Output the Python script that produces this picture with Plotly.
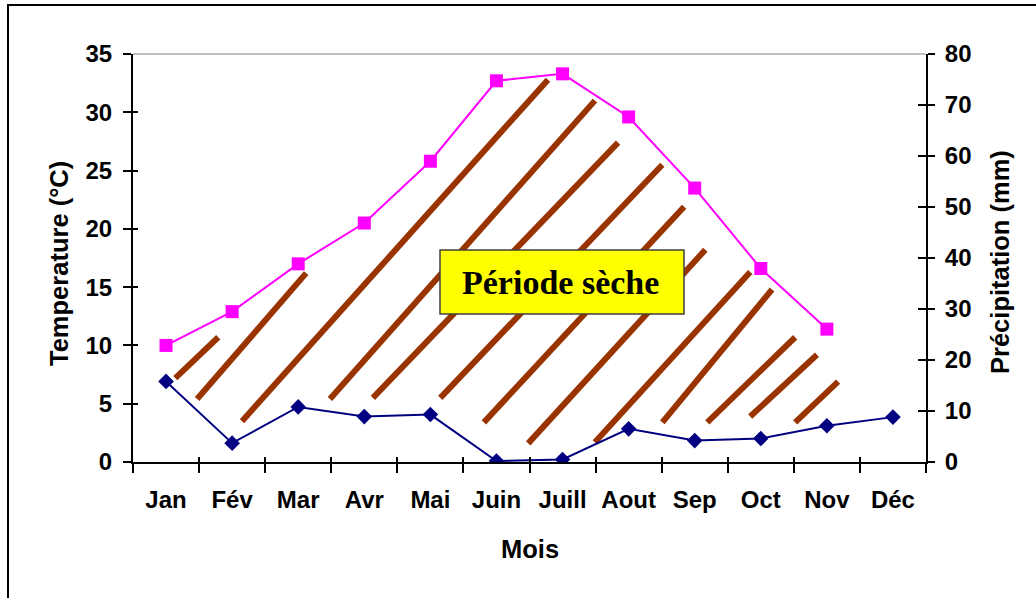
import plotly.graph_objects as go

months = ["Jan", "Fév", "Mar", "Avr", "Mai", "Juin", "Juill", "Aout", "Sep", "Oct", "Nov", "Déc"]
temperature = [10.0, 12.9, 17.0, 20.5, 25.8, 32.7, 33.3, 29.6, 23.5, 16.6, 11.4, None]
precipitation = [15.8, 3.7, 10.8, 8.9, 9.3, 0.2, 0.5, 6.5, 4.2, 4.6, 7.1, 8.8]
temp_ticks = [0, 5, 10, 15, 20, 25, 30, 35]
prec_ticks = [0, 10, 20, 30, 40, 50, 60, 70, 80]
# hatch strokes of the dry period: (month index start, °C start, month index end, °C end)
hatch_x0 = [0.14, 0.47, 1.15, 2.48, 3.13, 4.15, 4.81, 5.48, 6.49, 7.51, 8.19, 8.84, 9.52]
hatch_t0 = [7.2, 5.4, 3.5, 5.4, 5.5, 5.5, 3.4, 1.6, 1.7, 3.4, 3.4, 3.9, 3.4]
hatch_x1 = [0.79, 2.12, 5.78, 6.49, 6.84, 7.51, 7.84, 8.16, 8.84, 9.17, 9.52, 9.85, 10.17]
hatch_t1 = [10.7, 16.2, 32.8, 31.0, 27.4, 25.5, 21.9, 18.2, 16.3, 14.8, 10.7, 9.2, 6.9]
label_text = "Période sèche"

W, H = 1036, 598
ML, MR, MT, MB = 133, 110, 54, 136
PW, PH = W - ML - MR, H - MT - MB


def px(x):
    return (x - ML) / PW


def py(y):
    return (H - MB - y) / PH


TICKF = dict(family="Liberation Sans, Arial", size=24, color="black", weight="bold")
TITLEF = dict(family="Liberation Sans, Arial", size=25.5, color="black", weight="bold")

fig = go.Figure()
fig.add_trace(go.Scatter(
    x=months, y=temperature, mode="lines+markers", yaxis="y",
    line=dict(color="#FF00FF", width=2),
    marker=dict(symbol="square", size=13, color="#FF00FF"),
    showlegend=False, connectgaps=False))
fig.add_trace(go.Scatter(
    x=months, y=precipitation, mode="lines+markers", yaxis="y2",
    line=dict(color="#000080", width=2),
    marker=dict(symbol="diamond", size=12, color="#000080"),
    showlegend=False))
# invisible traces to carry the inner tick marks (ticks crossing the axes)
fig.add_trace(go.Scatter(x=months, y=[None] * 12, xaxis="x2", yaxis="y3",
                         showlegend=False, hoverinfo="skip"))
fig.add_trace(go.Scatter(x=months, y=[None] * 12, xaxis="x2", yaxis="y4",
                         showlegend=False, hoverinfo="skip"))

shapes = []
for a, b, c, d in zip(hatch_x0, hatch_t0, hatch_x1, hatch_t1):
    shapes.append(dict(type="line", xref="x", yref="y", x0=a, y0=b, x1=c, y1=d,
                       line=dict(color="#993300", width=6), layer="below"))
# grey plot-area top border
shapes.append(dict(type="line", xref="x domain", yref="y domain", x0=0, x1=1, y0=1, y1=1,
                   line=dict(color="#808080", width=1), layer="below"))
# label box
shapes.append(dict(type="rect", xref="paper", yref="paper",
                   x0=px(440), x1=px(684), y0=py(314), y1=py(250),
                   fillcolor="#FFFF00", line=dict(color="#404040", width=1.5), layer="above"))
# outer chart border
shapes.append(dict(type="rect", xref="paper", yref="paper",
                   x0=px(8), x1=px(1045), y0=py(610), y1=py(5),
                   fillcolor="rgba(0,0,0,0)", line=dict(color="black", width=2), layer="above"))

annotations = [
    dict(text=label_text, xref="paper", yref="paper", x=px(560), y=py(282),
         xanchor="center", yanchor="middle", showarrow=False,
         font=dict(family="Liberation Serif, Times New Roman", size=34,
                   color="black", weight="bold")),
    dict(text="Temperature (°C)", xref="paper", yref="paper", x=px(59), y=py(264),
         xanchor="center", yanchor="middle", textangle=-90, showarrow=False, font=TITLEF),
    dict(text="Précipitation (mm)", xref="paper", yref="paper", x=px(1000), y=py(262),
         xanchor="center", yanchor="middle", textangle=-90, showarrow=False, font=TITLEF),
    dict(text="Mois", xref="paper", yref="paper", x=px(530), y=py(549),
         xanchor="center", yanchor="middle", showarrow=False, font=TITLEF),
]

fig.update_layout(
    width=W, height=H, margin=dict(l=ML, r=MR, t=MT, b=MB, autoexpand=False),
    paper_bgcolor="white", plot_bgcolor="white",
    xaxis=dict(type="category", categoryorder="array", categoryarray=months,
               tickson="boundaries", ticks="outside", ticklen=9, tickwidth=2, tickcolor="black",
               showline=True, linecolor="black", linewidth=2, showgrid=False, zeroline=False,
               tickfont=TICKF, ticklabelstandoff=15, range=[-0.5, 11.5]),
    xaxis2=dict(type="category", categoryorder="array", categoryarray=months, overlaying="x",
                tickson="boundaries", ticks="inside", ticklen=5, tickwidth=2, tickcolor="black",
                showline=False, showgrid=False, zeroline=False, showticklabels=False,
                side="bottom", anchor="y3", range=[-0.5, 11.5]),
    yaxis=dict(range=[0, 35], tickvals=temp_ticks, ticks="outside", ticklen=8, tickwidth=2,
               tickcolor="black", showline=True, linecolor="black", linewidth=2,
               showgrid=False, zeroline=False, tickfont=TICKF, ticklabelstandoff=6),
    yaxis2=dict(range=[0, 80], tickvals=prec_ticks, overlaying="y", side="right",
                ticks="outside", ticklen=7, tickwidth=2, tickcolor="black",
                showline=True, linecolor="black", linewidth=2, showgrid=False,
                zeroline=False, tickfont=TICKF, ticklabelstandoff=5),
    yaxis3=dict(range=[0, 35], tickvals=temp_ticks, overlaying="y", side="left", anchor="x2",
                ticks="inside", ticklen=5, tickwidth=2, tickcolor="black",
                showline=False, showgrid=False, zeroline=False, showticklabels=False),
    yaxis4=dict(range=[0, 80], tickvals=prec_ticks, overlaying="y", side="right", anchor="x2",
                ticks="inside", ticklen=8, tickwidth=2, tickcolor="black",
                showline=False, showgrid=False, zeroline=False, showticklabels=False),
    shapes=shapes, annotations=annotations,
)

fig.write_html("out.html", config={"displayModeBar": False},
               post_script="document.body.style.margin='0px';")
